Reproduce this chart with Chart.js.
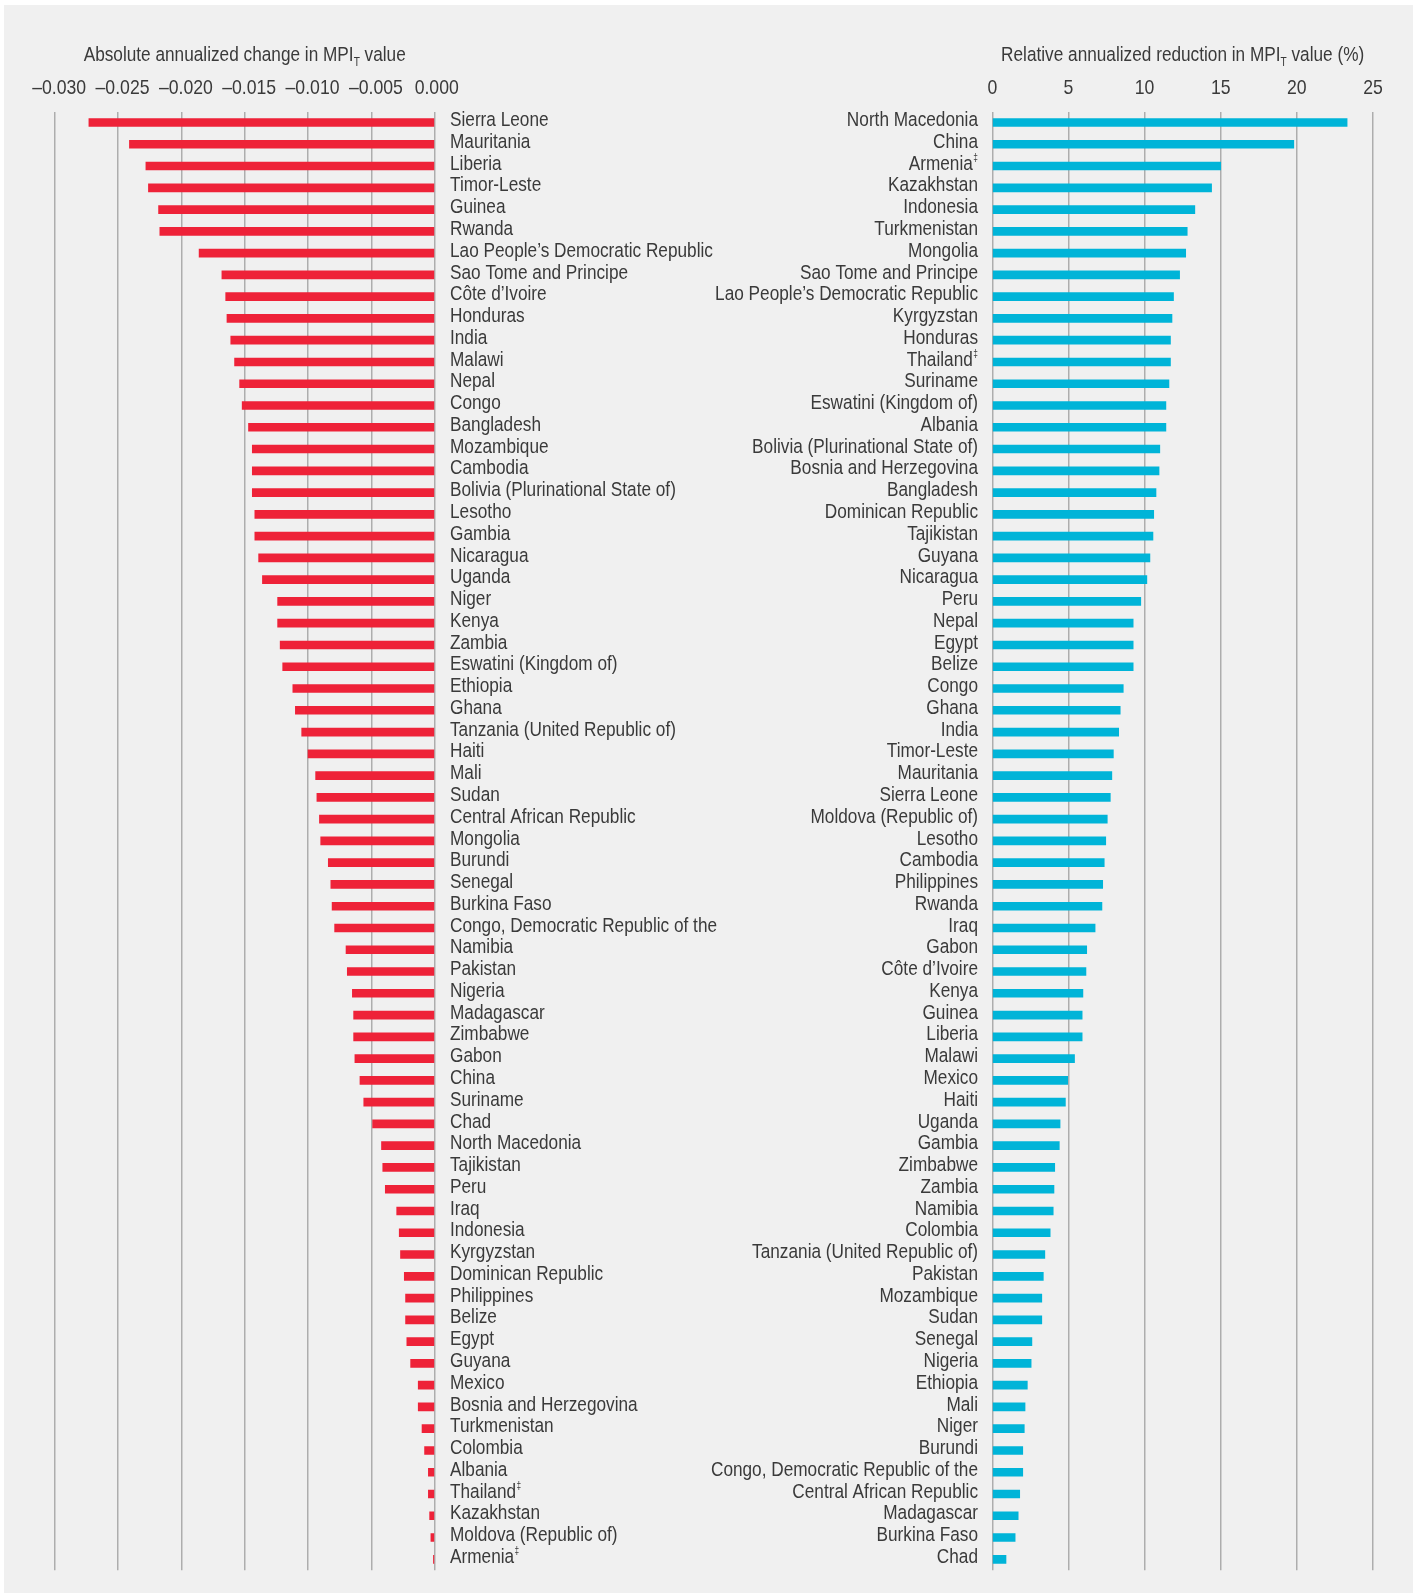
<!DOCTYPE html>
<html>
<head>
<meta charset="utf-8">
<script src="https://cdn.jsdelivr.net/npm/chart.js@4.4.1/dist/chart.umd.min.js"></script>
<style>
  html, body { margin: 0; padding: 0; background: #fff; }
  #panel { position: absolute; left: 4px; top: 5px; width: 1409px; height: 1588px; background: #f0f0f0; }
  canvas { position: absolute; top: 0; }
  #left { left: 0; }
  #right { left: 690px; }
</style>
</head>
<body>
<div id="panel"></div>
<canvas id="left" width="760" height="1593"></canvas>
<canvas id="right" width="723" height="1593"></canvas>
<script>
const FONT = "'Liberation Sans', Arial, sans-serif";
const SX = 0.84;           // horizontal squeeze to get a condensed face
const TEXT = '#3a3a3a';
const GRID = '#adadad';
const RED = '#ee2238';
const CYAN = '#00b4d8';
const LABEL_SIZE = 20.5;

// Left panel: absolute annualized change in MPI_T
const leftCountries = ['Sierra Leone', 'Mauritania', 'Liberia', 'Timor-Leste', 'Guinea', 'Rwanda',
  'Lao People’s Democratic Republic', 'Sao Tome and Principe', 'Côte d’Ivoire', 'Honduras', 'India',
  'Malawi', 'Nepal', 'Congo', 'Bangladesh', 'Mozambique', 'Cambodia', 'Bolivia (Plurinational State of)',
  'Lesotho', 'Gambia', 'Nicaragua', 'Uganda', 'Niger', 'Kenya', 'Zambia', 'Eswatini (Kingdom of)',
  'Ethiopia', 'Ghana', 'Tanzania (United Republic of)', 'Haiti', 'Mali', 'Sudan', 'Central African Republic',
  'Mongolia', 'Burundi', 'Senegal', 'Burkina Faso', 'Congo, Democratic Republic of the', 'Namibia',
  'Pakistan', 'Nigeria', 'Madagascar', 'Zimbabwe', 'Gabon', 'China', 'Suriname', 'Chad', 'North Macedonia',
  'Tajikistan', 'Peru', 'Iraq', 'Indonesia', 'Kyrgyzstan', 'Dominican Republic', 'Philippines', 'Belize',
  'Egypt', 'Guyana', 'Mexico', 'Bosnia and Herzegovina', 'Turkmenistan', 'Colombia', 'Albania',
  'Thailand‡', 'Kazakhstan', 'Moldova (Republic of)', 'Armenia‡'];
const leftValues = [-0.0273, -0.0241, -0.0228, -0.0226, -0.0218, -0.0217, -0.0186, -0.0168, -0.0165, -0.0164,
  -0.0161, -0.0158, -0.0154, -0.0152, -0.0147, -0.0144, -0.0144, -0.0144, -0.0142, -0.0142,
  -0.0139, -0.0136, -0.0124, -0.0124, -0.0122, -0.0120, -0.0112, -0.0110, -0.0105, -0.0100,
  -0.0094, -0.0093, -0.0091, -0.0090, -0.0084, -0.0082, -0.0081, -0.0079, -0.0070, -0.0069,
  -0.0065, -0.0064, -0.0064, -0.0063, -0.0059, -0.0056, -0.0049, -0.0042, -0.0041, -0.0039,
  -0.0030, -0.0028, -0.0027, -0.0024, -0.0023, -0.0023, -0.0022, -0.0019, -0.0013, -0.0013,
  -0.0010, -0.0008, -0.0005, -0.0005, -0.0004, -0.0003, -0.0001];
const leftTicks = [-0.030, -0.025, -0.020, -0.015, -0.010, -0.005, 0];

// Right panel: relative annualized reduction (%)
const rightCountries = ['North Macedonia', 'China', 'Armenia‡', 'Kazakhstan', 'Indonesia', 'Turkmenistan',
  'Mongolia', 'Sao Tome and Principe', 'Lao People’s Democratic Republic', 'Kyrgyzstan', 'Honduras',
  'Thailand‡', 'Suriname', 'Eswatini (Kingdom of)', 'Albania', 'Bolivia (Plurinational State of)',
  'Bosnia and Herzegovina', 'Bangladesh', 'Dominican Republic', 'Tajikistan', 'Guyana', 'Nicaragua',
  'Peru', 'Nepal', 'Egypt', 'Belize', 'Congo', 'Ghana', 'India', 'Timor-Leste', 'Mauritania',
  'Sierra Leone', 'Moldova (Republic of)', 'Lesotho', 'Cambodia', 'Philippines', 'Rwanda', 'Iraq',
  'Gabon', 'Côte d’Ivoire', 'Kenya', 'Guinea', 'Liberia', 'Malawi', 'Mexico', 'Haiti', 'Uganda',
  'Gambia', 'Zimbabwe', 'Zambia', 'Namibia', 'Colombia', 'Tanzania (United Republic of)', 'Pakistan',
  'Mozambique', 'Sudan', 'Senegal', 'Nigeria', 'Ethiopia', 'Mali', 'Niger', 'Burundi',
  'Congo, Democratic Republic of the', 'Central African Republic', 'Madagascar', 'Burkina Faso', 'Chad'];
const rightValues = [23.3, 19.8, 15.0, 14.4, 13.3, 12.8, 12.7, 12.3, 11.9, 11.8,
  11.7, 11.7, 11.6, 11.4, 11.4, 11.0, 10.95, 10.75, 10.6, 10.55,
  10.35, 10.15, 9.75, 9.25, 9.25, 9.25, 8.6, 8.4, 8.3, 7.95,
  7.85, 7.75, 7.55, 7.45, 7.35, 7.25, 7.2, 6.75, 6.2, 6.15,
  5.95, 5.9, 5.9, 5.4, 4.95, 4.8, 4.45, 4.4, 4.1, 4.05,
  4.0, 3.8, 3.45, 3.35, 3.25, 3.25, 2.6, 2.55, 2.3, 2.15,
  2.1, 2.0, 2.0, 1.8, 1.7, 1.5, 0.9];
const rightTicks = [0, 5, 10, 15, 20, 25];

Chart.defaults.font.family = FONT;
Chart.defaults.color = TEXT;
Chart.defaults.animation = false;

const stripMark = s => s.replace('‡', '');

function textWidth(ctx, text, size) {
  ctx.font = size + 'px ' + FONT;
  return ctx.measureText(text).width * SX;
}

// draw text squeezed horizontally, returns drawn width
function drawText(ctx, text, x, y, size, align, baseline) {
  ctx.save();
  ctx.font = size + 'px ' + FONT;
  ctx.textAlign = align;
  ctx.textBaseline = baseline;
  ctx.translate(x, y);
  ctx.scale(SX, 1);
  ctx.fillText(text, 0, 0);
  const w = ctx.measureText(text).width * SX;
  ctx.restore();
  return w;
}

// tick labels, category labels (with small ‡) and the title with subscript T
const textLayer = {
  id: 'textLayer',
  afterDraw(chart, args, opts) {
    const ctx = chart.ctx;
    const area = chart.chartArea;
    const xs = chart.scales.x, ys = chart.scales.y;
    ctx.save();
    ctx.fillStyle = TEXT;

    xs.ticks.forEach((t, i) => {
      const dx = opts.tickShift ? opts.tickShift(t.value) : 0;
      drawText(ctx, opts.tickFormat(t.value), xs.getPixelForTick(i) + dx, 88.5, 21, 'center', 'middle');
    });

    chart.data.labels.forEach((lab, i) => {
      const y = ys.getPixelForTick(i) - 2;
      const name = stripMark(lab);
      const hasMark = name !== lab;
      if (opts.side === 'left') {
        const x = area.right + 15.3;
        const w = drawText(ctx, name, x, y, LABEL_SIZE, 'left', 'middle');
        if (hasMark) drawText(ctx, '‡', x + w + 0.5, y - 6, 10, 'left', 'middle');
      } else {
        let x = area.left - 14.3;
        if (hasMark) {
          const mw = drawText(ctx, '‡', x, y - 6, 10, 'right', 'middle');
          x -= mw + 0.5;
        }
        drawText(ctx, name, x, y, LABEL_SIZE, 'right', 'middle');
      }
    });

    const wa = textWidth(ctx, opts.before, 20.5);
    const wt = textWidth(ctx, 'T', 12);
    const wb = textWidth(ctx, opts.after, 20.5);
    let x = (area.left + area.right) / 2 - (wa + wt + wb) / 2;
    drawText(ctx, opts.before, x, 60.5, 20.5, 'left', 'alphabetic'); x += wa;
    drawText(ctx, 'T', x, 66, 12, 'left', 'alphabetic'); x += wt;
    drawText(ctx, opts.after, x, 60.5, 20.5, 'left', 'alphabetic');
    ctx.restore();
  }
};

// left chart, labels to the right of the zero line
new Chart(document.getElementById('left'), {
  type: 'bar',
  data: {
    labels: leftCountries,
    datasets: [{ data: leftValues, backgroundColor: RED, barThickness: 8 }]
  },
  options: {
    indexAxis: 'y',
    responsive: false,
    devicePixelRatio: 1,
    layout: { padding: { left: 54.7, right: 0, top: 70, bottom: 22.8 } },
    plugins: {
      legend: { display: false },
      tooltip: { enabled: false },
      textLayer: {
        side: 'left',
        before: 'Absolute annualized change in MPI',
        after: ' value',
        tickFormat: v => v === 0 ? '0.000' : '\u2013' + Math.abs(v).toFixed(3),
        tickShift: v => v === 0 ? 2 : 4.5
      }
    },
    scales: {
      x: {
        position: 'top',
        min: -0.03,
        max: 0,
        afterBuildTicks: s => { s.ticks = leftTicks.map(v => ({ value: v })); },
        afterFit: s => { s.height = 41.6; },
        grid: { color: GRID, lineWidth: 1.5, drawTicks: false },
        border: { display: false },
        ticks: { display: false }
      },
      y: {
        position: 'right',
        afterFit: s => { s.width = 760 - 434.7; },
        grid: { display: false, drawTicks: false },
        border: { display: false },
        ticks: { display: false }
      }
    }
  },
  plugins: [textLayer]
});

// right chart, labels to the left of the zero line
new Chart(document.getElementById('right'), {
  type: 'bar',
  data: {
    labels: rightCountries,
    datasets: [{ data: rightValues, backgroundColor: CYAN, barThickness: 8 }]
  },
  options: {
    indexAxis: 'y',
    responsive: false,
    devicePixelRatio: 1,
    layout: { padding: { left: 0, right: 40, top: 70, bottom: 22.8 } },
    plugins: {
      legend: { display: false },
      tooltip: { enabled: false },
      textLayer: {
        side: 'right',
        before: 'Relative annualized reduction in MPI',
        after: ' value (%)',
        tickFormat: v => String(v)
      }
    },
    scales: {
      x: {
        position: 'top',
        min: 0,
        max: 25,
        afterBuildTicks: s => { s.ticks = rightTicks.map(v => ({ value: v })); },
        afterFit: s => { s.height = 41.6; },
        grid: { color: GRID, lineWidth: 1.5, drawTicks: false },
        border: { display: false },
        ticks: { display: false }
      },
      y: {
        position: 'left',
        afterFit: s => { s.width = 302.3; },
        grid: { display: false, drawTicks: false },
        border: { display: false },
        ticks: { display: false }
      }
    }
  },
  plugins: [textLayer]
});
</script>
</body>
</html>
